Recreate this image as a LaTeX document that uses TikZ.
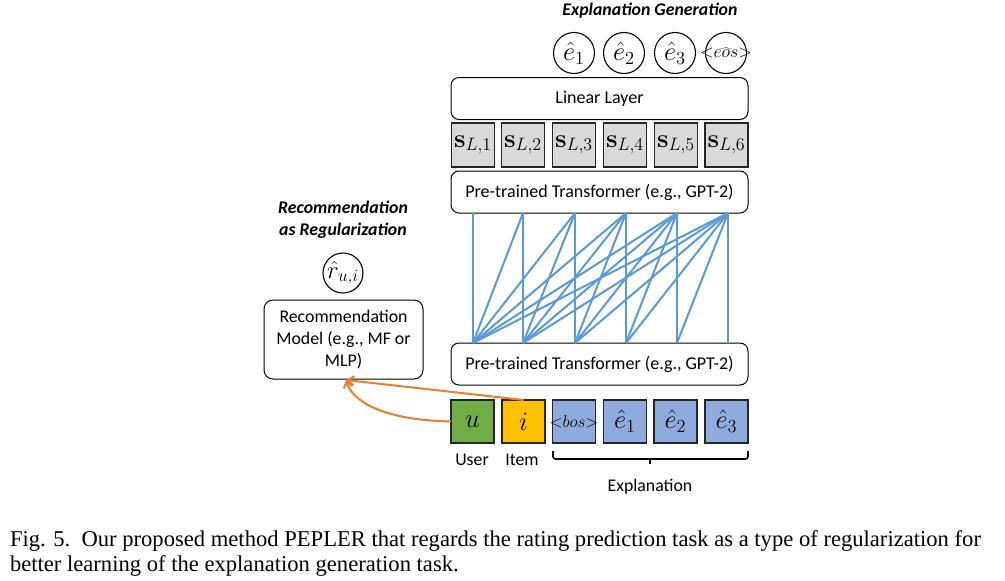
\documentclass[tikz,border=0pt]{standalone}
\usepackage[no-math]{fontspec}
\setmainfont{Carlito}
\newfontfamily\capfont{Liberation Serif}
\usetikzlibrary{arrows.meta}
\newcommand{\mthbig}[2][1.28]{\scalebox{#1}{$#2$}}
\definecolor{attn}{HTML}{5B9BD5}
\definecolor{orangec}{HTML}{ED7D31}
\definecolor{usergreen}{HTML}{70AD47}
\definecolor{itemyellow}{HTML}{FFC000}
\definecolor{tokblue}{HTML}{8FAADC}
\definecolor{stategray}{HTML}{D9D9D9}
\definecolor{edge}{HTML}{262626}
\begin{document}
\begin{tikzpicture}[x=1pt,y=-1pt,
  every node/.style={inner sep=0pt,outer sep=0pt},
  widebox/.style={draw=black,line width=1pt,rounded corners=8pt,minimum width=297pt,minimum height=42pt,font=\fontsize{18}{22}\selectfont,fill=white},
  tokbox/.style={draw=edge,line width=1.6pt,minimum width=43pt,minimum height=43pt,font=\fontsize{20}{22}\selectfont},
  outcirc/.style={draw=black,line width=1.1pt,circle,minimum size=41pt,font=\fontsize{20}{22}\selectfont},
  title/.style={font=\fontsize{17.8}{22}\selectfont\bfseries\itshape},
  small/.style={font=\fontsize{17.8}{22}\selectfont},
  attnline/.style={draw=attn,line width=2pt},
  orarrow/.style={draw=orangec,line width=2pt,-{Straight Barb[length=6pt,width=9pt]}}]
\useasboundingbox (0,0) rectangle (1005,581);
\fill[white] (0,0) rectangle (1005,581);

% explanation generation
\node[title] (egt) at (650,11) {Explanation Generation};
\node[outcirc] (o1) at (574,53) {\mthbig{\hat{e}_1}};
\node[outcirc] (o2) at (624,53) {\mthbig{\hat{e}_2}};
\node[outcirc] (o3) at (675,53) {\mthbig{\hat{e}_3}};
\node[outcirc] (o4) at (726,53) {\makebox[0pt]{\mthbig[0.86]{{<}\widehat{eos}{>}}}};

\node[widebox] (lin) at (599.5,98.5) {Linear Layer};

\foreach \i/\x in {1/473,2/523,3/574,4/625,5/676,6/726.5}{
  \node[tokbox,fill=stategray,minimum height=44pt] (s\i) at (\x,145) {\mthbig[1.25]{\mathbf{s}_{L,\i}}};
}

\node[widebox] (tt) at (599.5,192) {Pre-trained Transformer (e.g., GPT-2)};
\node[widebox] (bt) at (599.5,364) {Pre-trained Transformer (e.g., GPT-2)};

% attention lines
\foreach \i/\xi in {1/473,2/523,3/575,4/626,5/677,6/728}{
  \coordinate (b\i) at (\xi,343);
  \coordinate (t\i) at (\xi,213);
}
\foreach \j in {1,...,6}{
  \foreach \i in {1,...,\j}{
    \draw[attnline] (b\i) -- (t\j);
  }
}

% inputs
\node[tokbox,fill=usergreen] (u) at (472.5,421.5) {\mthbig{u}};
\node[tokbox,fill=itemyellow] (it) at (523.5,421.5) {\mthbig{i}};
\node[tokbox,fill=tokblue] (bos) at (574,421.5) {\makebox[0pt]{\mthbig[0.82]{{<}bos{>}}}};
\node[tokbox,fill=tokblue] (e1) at (625,421.5) {\mthbig{\hat{e}_1}};
\node[tokbox,fill=tokblue] (e2) at (675.5,421.5) {\mthbig{\hat{e}_2}};
\node[tokbox,fill=tokblue] (e3) at (726.5,421.5) {\mthbig{\hat{e}_3}};

\node[small] (ul) at (472,460) {User};
\node[small] (il) at (522,460) {Item};
\draw[line width=1.6pt,rounded corners=2.5pt] (553,451) -- (553,459) -- (748,459) -- (748,451);
\draw[line width=1.6pt] (650,459) -- (650,464);
\node[small] (expl) at (650,487) {Explanation};

% recommendation
\node[align=center,font=\fontsize{17.8}{22}\selectfont\bfseries\itshape] (rt) at (343,220) {Recommendation\\as Regularization};
\node[outcirc,minimum size=40pt] (r) at (343,273) {\mthbig[1.2]{\hat{r}_{u,i}}};
\node[draw=black,line width=1pt,rounded corners=9pt,minimum width=159pt,minimum height=79pt,align=center,font=\fontsize{17.8}{22}\selectfont] (rec) at (343.5,339.5) {Recommendation\\Model (e.g., MF or\\MLP)};

\coordinate (tip) at (346,380);
\draw[orarrow] (u.west) .. controls (380,420) and (352,400) .. (tip);
\draw[orarrow] (it.north) -- (tip);

% caption
\node[anchor=west,align=left,font=\capfont\fontsize{22.6}{25}\selectfont] (cap) at (10,553) {Fig. 5.\ \ Our proposed method PEPLER that regards the rating prediction task as a type of regularization for\\better learning of the explanation generation task.};
\end{tikzpicture}
\end{document}
